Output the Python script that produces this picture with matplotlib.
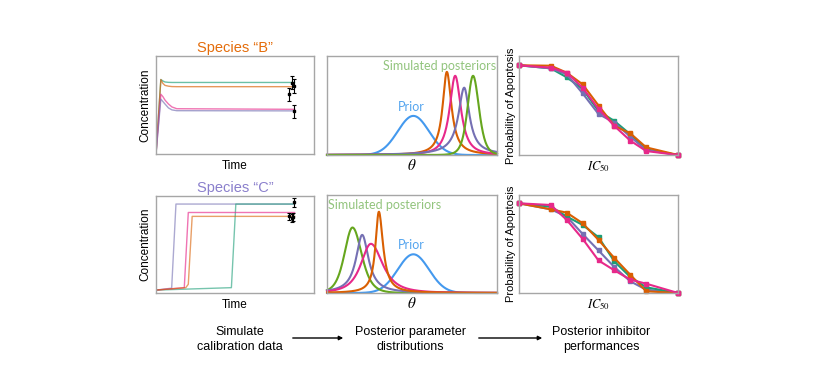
import numpy as np
import matplotlib
matplotlib.use("Agg")
import matplotlib.pyplot as plt
from matplotlib.patches import FancyArrowPatch

plt.rcParams['font.family'] = ['Liberation Sans', 'DejaVu Sans']
plt.rcParams['mathtext.fontset'] = 'stix'

W, H = 830, 389

# colours
green = '#1b9e77'
orange = '#d95f02'
purple = '#7570b3'
pink = '#e7298a'
lime = '#66a61e'
prior_blue = '#4499ee'
frame_grey = '#a6a6a6'

# ---- left column: simulated calibration time courses (time 0-100) ----
b_colors = [green, orange, pink, purple]
b_t = [0, 3.5, 5, 6.5, 9, 11.5, 15, 100]
b_green = [0, 0.76, 0.745, 0.735, 0.731, 0.73, 0.73, 0.73]
b_orange = [0, 0.76, 0.72, 0.70, 0.692, 0.688, 0.687, 0.687]
b_pink = [0, 0.61, 0.585, 0.55, 0.51, 0.48, 0.462, 0.456]
b_purple = [0, 0.56, 0.535, 0.51, 0.47, 0.45, 0.442, 0.44]
b_data_t = [98, 99.5, 95.9, 99.5]
b_data_y = [0.729, 0.694, 0.608, 0.436]
b_data_err = [0.068, 0.068, 0.068, 0.068]

c_purple_t = [0, 11.3, 14.4, 100]
c_purple = [0.03, 0.05, 0.917, 0.917]
c_pink_t = [0, 20.4, 23.3, 100]
c_pink = [0.03, 0.055, 0.83, 0.83]
c_orange_t = [0, 21.5, 23.3, 26.1, 100]
c_orange = [0.03, 0.055, 0.09, 0.79, 0.79]
c_green_t = [0, 54.4, 57.6, 100]
c_green = [0.03, 0.055, 0.917, 0.917]
c_data_t = [99.5, 95.9, 97.8, 98.7]
c_data_y = [0.934, 0.79, 0.773, 0.78]
c_data_err = [0.045, 0.035, 0.04, 0.04]

# ---- middle column: distributions (peak position, height, left/right half width, tail exponent) ----
prior_mu, prior_h, prior_sd = 0.508, 0.395, 0.092
top_post_colors = [orange, pink, purple, lime]
top_mu = [0.705, 0.754, 0.807, 0.859]
top_h = [0.84, 0.80, 0.68, 0.80]
top_wl = [0.030, 0.039, 0.042, 0.038]
top_wr = [0.033, 0.040, 0.038, 0.041]
top_m = [1.0, 1.2, 0.9, 3.0]

bot_post_colors = [lime, purple, pink, orange]
bot_mu = [0.150, 0.207, 0.258, 0.305]
bot_h = [0.668, 0.593, 0.502, 0.83]
bot_wl = [0.056, 0.044, 0.069, 0.024]
bot_wr = [0.063, 0.045, 0.082, 0.030]
bot_m = [3.0, 1.0, 1.5, 1.0]

# ---- right column: probability of apoptosis vs IC50 ----
ic50 = [0, 2, 3, 4, 5, 6, 7, 8, 10]
top_right = {
    green: [0.906, 0.875, 0.785, 0.667, 0.444, 0.343, 0.209, 0.057, 0],
    purple: [0.906, 0.875, 0.815, 0.623, 0.414, 0.327, 0.185, 0.05, 0],
    orange: [0.906, 0.902, 0.832, 0.714, 0.5, 0.293, 0.219, 0.077, 0],
    pink: [0.906, 0.882, 0.832, 0.68, 0.465, 0.293, 0.145, 0.04, 0],
}
bot_right = {
    purple: [0.915, 0.854, 0.78, 0.603, 0.434, 0.264, 0.119, 0.034, 0],
    green: [0.915, 0.881, 0.78, 0.695, 0.569, 0.322, 0.163, 0.058, 0],
    orange: [0.915, 0.854, 0.820, 0.712, 0.542, 0.356, 0.186, 0.017, 0],
    pink: [0.915, 0.898, 0.746, 0.553, 0.332, 0.231, 0.136, 0.095, 0],
}


def box(x0, y0, x1, y1):
    return [x0 / W, 1 - y1 / H, (x1 - x0) / W, (y1 - y0) / H]


def fx(x):
    return x / W


def fy(y):
    return 1 - y / H


def peak(x, mu, h, wl, wr, m):
    w = np.where(x < mu, wl, wr)
    return h * (1 + ((x - mu) / w) ** 2 * (2 ** (1 / m) - 1)) ** (-m)


def style(ax):
    ax.set_xticks([])
    ax.set_yticks([])
    for s in ax.spines.values():
        s.set_color(frame_grey)
        s.set_linewidth(1.0)


fig = plt.figure(figsize=(W / 100, H / 100), dpi=100)

# top left
ax = fig.add_axes(box(156, 56, 314, 154))
style(ax)
for c, y in zip(b_colors, [b_green, b_orange, b_pink, b_purple]):
    ax.plot(b_t, y, color=c, lw=1.0, alpha=0.65)
ax.errorbar(b_data_t, b_data_y, yerr=b_data_err, fmt='s', color='black',
            ms=1.8, elinewidth=0.8, capsize=1.6, capthick=0.8)
ax.set_xlim(0, 114)
ax.set_ylim(0, 1)
ax.set_title('Species \u201cB\u201d', color='#e46c0a', fontsize=10.5, pad=3)
ax.set_xlabel('Time', fontsize=8.5, labelpad=4)
ax.set_ylabel('Concentration', fontsize=8.5, labelpad=3)

# bottom left
ax = fig.add_axes(box(156, 196, 314, 293))
style(ax)
ax.plot(c_purple_t, c_purple, color=purple, lw=1.0, alpha=0.6)
ax.plot(c_green_t, c_green, color=green, lw=1.0, alpha=0.6)
ax.plot(c_pink_t, c_pink, color=pink, lw=1.0, alpha=0.65)
ax.plot(c_orange_t, c_orange, color=orange, lw=1.0, alpha=0.6)
ax.errorbar(c_data_t, c_data_y, yerr=c_data_err, fmt='s', color='black',
            ms=1.8, elinewidth=0.8, capsize=1.6, capthick=0.8)
ax.set_xlim(0, 114)
ax.set_ylim(0, 1)
ax.set_title('Species \u201cC\u201d', color='#8a7fcc', fontsize=10.5, pad=3)
ax.set_xlabel('Time', fontsize=8.5, labelpad=4)
ax.set_ylabel('Concentration', fontsize=8.5, labelpad=3)

# middle panels
x = np.linspace(0, 1, 400)
for rect, cols, mus, hs, wls, wrs, ms, txt_xy in [
        ((327, 56, 497, 155), top_post_colors, top_mu, top_h, top_wl, top_wr, top_m, (0.66, 0.90)),
        ((327, 195, 497, 293), bot_post_colors, bot_mu, bot_h, bot_wl, bot_wr, bot_m, (0.34, 0.90))]:
    ax = fig.add_axes(box(*rect))
    style(ax)
    ax.plot(x, prior_h * np.exp(-0.5 * ((x - prior_mu) / prior_sd) ** 2),
            color=prior_blue, lw=1.5, clip_on=False)
    for c, mu, h, wl, wr, m in zip(cols, mus, hs, wls, wrs, ms):
        ax.plot(x, peak(x, mu, h, wl, wr, m), color=c, lw=1.5, clip_on=False)
    ax.set_xlim(0, 1)
    ax.set_ylim(0, 1)
    ax.text(txt_xy[0], txt_xy[1], 'Simulated posteriors', transform=ax.transAxes,
            ha='center', va='center', color='#92c47d', fontsize=9, family='Lato')
    ax.text(prior_mu - 0.01, prior_h + 0.09, 'Prior', transform=ax.transAxes,
            ha='center', va='center', color='#55a5ef', fontsize=9, family='Lato')
    ax.set_xlabel(r'$\theta$', fontsize=11, labelpad=2)

# right panels
for rect, series in [((519, 56, 678, 155), top_right), ((519, 195, 678, 293), bot_right)]:
    ax = fig.add_axes(box(*rect))
    style(ax)
    for c, y in series.items():
        ax.plot(ic50, y, color=c, lw=1.5, marker='s', ms=2.5, clip_on=False)
    ax.set_xlim(0, 10)
    ax.set_ylim(0, 1)
    ax.set_xlabel(r'$IC_{50}$', fontsize=9, labelpad=3)
    ax.set_ylabel('Probability of Apoptosis', fontsize=8, labelpad=2)

# bottom workflow row
steps = ['Simulate\ncalibration data', 'Posterior parameter\ndistributions',
         'Posterior inhibitor\nperformances']
step_x = [240, 410, 601]
for s, xp in zip(steps, step_x):
    fig.text(fx(xp), fy(339.5), s, ha='center', va='center', fontsize=9, linespacing=1.25)
for x0, x1 in [(290, 346), (476, 545)]:
    fig.add_artist(FancyArrowPatch((fx(x0), fy(338)), (fx(x1), fy(338)),
                                   transform=fig.transFigure, arrowstyle='-|>',
                                   mutation_scale=6, lw=1.0, color='black'))

fig.savefig('out.png', dpi=100)
